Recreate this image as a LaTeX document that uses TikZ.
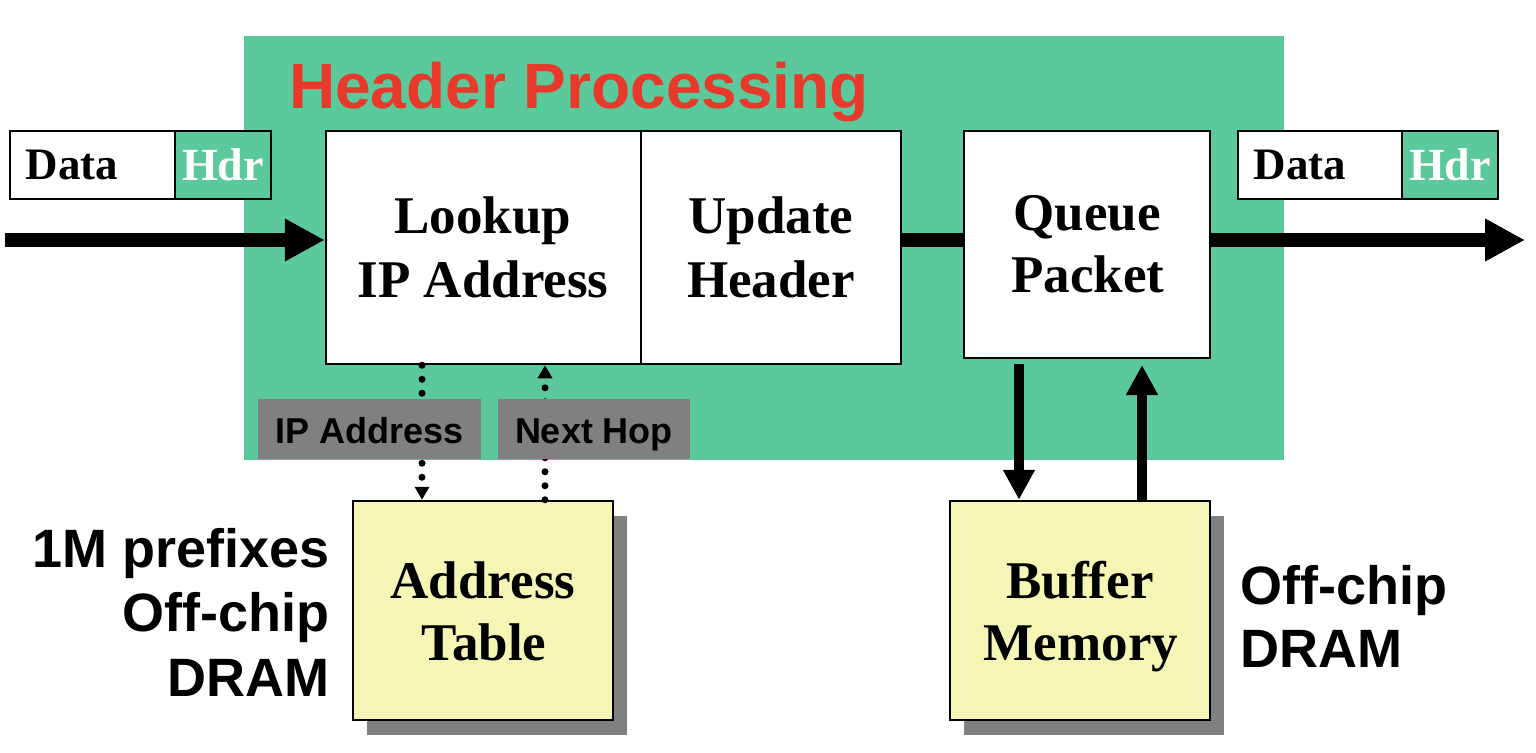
\documentclass[tikz,border=0pt]{standalone}
\usepackage{fontspec}
\setmainfont{Liberation Serif}
\setsansfont{Liberation Sans}
\usetikzlibrary{arrows.meta}
\definecolor{bggreen}{HTML}{5BC99C}
\definecolor{hdrred}{HTML}{E8392B}
\definecolor{memyellow}{HTML}{F5F5B5}
\definecolor{lblgray}{HTML}{808080}
\begin{document}
\begin{tikzpicture}[x=1pt,y=-1pt,
  procbox/.style={draw=black, line width=2.5pt, fill=white, rectangle, inner sep=0pt},
  membox/.style={draw=black, line width=2.5pt, fill=memyellow, rectangle, inner sep=0pt, minimum width=260pt, minimum height=219pt},
  shadowbox/.style={fill=lblgray, rectangle, inner sep=0pt, minimum width=260pt, minimum height=219pt},
  pktdata/.style={draw=black, line width=2pt, fill=white, rectangle, inner sep=0pt, minimum height=68pt},
  pkttxt/.style={inner sep=0pt, font=\bfseries\fontsize{45}{50}\selectfont},
  pkthdr/.style={draw=black, line width=2pt, fill=bggreen, text=white, rectangle, inner sep=0pt, minimum width=96pt, minimum height=68pt, font=\bfseries\fontsize{46}{50}\selectfont},
  graylbl/.style={fill=lblgray, rectangle, inner sep=0pt, minimum height=60pt, text height=36pt, text depth=8pt, font=\sffamily\bfseries\fontsize{36}{40}\selectfont},
  bigtxt/.style={font=\bfseries\fontsize{53}{60}\selectfont, inner sep=0pt, anchor=base},
  notetxt/.style={font=\sffamily\bfseries\fontsize{54}{60}\selectfont, inner sep=0pt},
  fatline/.style={line width=14pt},
  fattip/.style={-{Triangle[length=40pt,width=40pt]}},
  memarrow/.style={line width=10pt, -{Triangle[length=30pt,width=30pt]}},
  dotline/.style={line width=7pt, line cap=round, dash pattern=on 0pt off 14pt, -{Triangle[length=13pt,width=14pt]}}
]
\useasboundingbox (0,0) rectangle (1536,752);
% background
\fill[bggreen] (244,36) rectangle (1284,460);
\node[anchor=base west, inner sep=0pt, text=hdrred, font=\sffamily\bfseries\fontsize{64}{70}\selectfont] (title) at (289,108) {Header Processing};

% processing boxes
\node[procbox, minimum width=315pt, minimum height=233pt] (lookup) at (483.5,247.5) {};
\node[procbox, minimum width=260pt, minimum height=233pt] (update) at (771,247.5) {};
\node[procbox, minimum width=246pt, minimum height=227pt] (queue) at (1087,244.5) {};

\node[bigtxt] (lk1) at (483,233) {Lookup};
\node[bigtxt] (lk2) at (483,297) {IP Address};
\node[bigtxt] (up1) at (771,233) {Update};
\node[bigtxt] (up2) at (771,297) {Header};
\node[bigtxt] (qu1) at (1087,230) {Queue};
\node[bigtxt] (qu2) at (1088,292) {Packet};

% packets
\node[pktdata, minimum width=165pt] (dataL) at (92.5,165) {};
\node[pkttxt] (dataLt) at (72,165) {Data};
\node[pkthdr] (hdrL) at (223,165) {Hdr};
\node[pktdata, minimum width=164pt] (dataR) at (1320,165) {};
\node[pkttxt] (dataRt) at (1300,165) {Data};
\node[pkthdr] (hdrR) at (1450,165) {Hdr};

% memories
\node[shadowbox] (addrsh) at (497,625.5) {};
\node[membox] (addr) at (483,610.5) {};
\node[shadowbox] (bufsh) at (1094,625.5) {};
\node[membox] (buf) at (1080,610.5) {};
\node[bigtxt] (ad1) at (483,598) {Address};
\node[bigtxt] (ad2) at (484,660) {Table};
\node[bigtxt] (bu1) at (1080,598) {Buffer};
\node[bigtxt] (bu2) at (1081,660) {Memory};

% main data path
\coordinate (inL) at (5,240);
\coordinate (outR) at (1525,240);
\draw[fatline, fattip] (inL) -- (lookup.west |- inL);
\draw[fatline] (update.east |- inL) -- (queue.west |- inL);
\draw[fatline, fattip] (queue.east |- inL) -- (outR);

% queue <-> buffer
\coordinate (dnTop) at (1019,364);
\coordinate (upTop) at (1142,365);
\draw[memarrow] (dnTop) -- (dnTop |- buf.north);
\draw[memarrow] (upTop |- buf.north) -- (upTop);

% lookup <-> table (dotted)
\coordinate (ipx) at (422,0);
\coordinate (nhx) at (545,0);
\draw[dotline] (ipx |- lookup.south) -- (ipx |- addr.north);
\draw[dotline] (nhx |- addr.north) -- (nhx |- lookup.south);

\node[graylbl, minimum width=223pt] (iplbl) at (369.5,429) {IP Address};
\node[graylbl, minimum width=192pt] (nhlbl) at (594,429) {Next Hop};

% side notes
\node[notetxt, anchor=base east] (n1) at (330,567) {1M prefixes};
\node[notetxt, anchor=base east] (n2) at (330,631) {Off-chip};
\node[notetxt, anchor=base east] (n3) at (330,696) {DRAM};
\node[notetxt, anchor=base west] (n4) at (1240,604) {Off-chip};
\node[notetxt, anchor=base west] (n5) at (1240,667) {DRAM};
\end{tikzpicture}
\end{document}
